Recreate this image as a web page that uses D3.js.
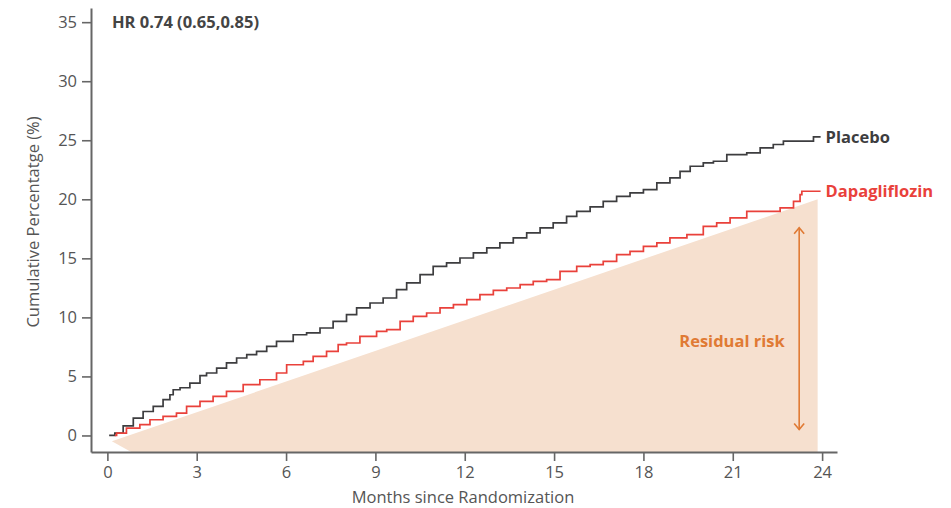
<!DOCTYPE html>
<html>
<head>
<meta charset="utf-8">
<script src="https://cdn.jsdelivr.net/npm/d3@7"></script>
<style>
  html, body { margin: 0; padding: 0; background: #fff; }
  svg { display: block; font-family: "Open Sans", "Noto Sans", sans-serif; }
</style>
</head>
<body>
<svg id="chart" width="951" height="508"></svg>
<script>
// Kaplan–Meier cumulative incidence, months since randomization vs %
const placeboMonths = [0.06,0.25,0.53,0.87,1.20,1.54,1.87,2.10,2.21,2.44,2.77,3.11,3.33,3.67,4.00,4.34,4.68,5.01,5.35,5.68,6.24,6.69,7.14,7.58,8.03,8.37,8.82,9.26,9.71,10.05,10.50,10.94,11.39,11.84,12.29,12.74,13.18,13.63,14.08,14.53,14.97,15.42,15.76,16.21,16.65,17.10,17.55,18.00,18.45,18.89,19.23,19.57,20.01,20.35,20.80,21.47,21.92,22.36,22.70,23.71,23.95];
const placeboValues = [0,0.2,0.82,1.47,2.03,2.46,3.03,3.45,3.87,4.04,4.44,5.06,5.29,5.71,6.14,6.56,6.84,7.12,7.54,7.97,8.53,8.68,9.10,9.66,10.23,10.80,11.22,11.64,12.35,12.92,13.62,14.32,14.61,15.03,15.46,15.88,16.31,16.73,17.15,17.58,18.00,18.56,18.98,19.36,19.83,20.25,20.54,20.82,21.39,21.81,22.37,22.80,23.08,23.22,23.79,23.93,24.36,24.64,24.92,25.29,25.29];

const dapaMonths = [0.25,0.31,0.64,1.09,1.43,1.87,2.32,2.66,3.11,3.55,4.00,4.56,5.12,5.68,6.02,6.58,6.91,7.36,7.75,8.03,8.48,9.04,9.38,9.83,10.27,10.72,11.17,11.62,12.07,12.51,12.96,13.41,13.86,14.30,14.75,15.20,15.76,16.21,16.65,17.10,17.55,18.00,18.45,18.89,19.46,20.01,20.46,20.91,21.47,22.59,23.04,23.26,23.32,23.95];
const dapaValues = [0,0.2,0.63,0.91,1.33,1.61,1.90,2.46,2.88,3.31,3.73,4.30,4.72,5.29,5.99,6.27,6.69,7.12,7.69,7.83,8.39,8.81,8.96,9.66,10.08,10.37,10.80,11.08,11.50,11.92,12.29,12.49,12.77,13.05,13.19,13.90,14.32,14.47,14.75,15.31,15.59,16.02,16.31,16.73,17.01,17.71,18.00,18.42,18.98,19.27,19.83,20.40,20.68,20.68];

const seriesNames = ["Placebo", "Dapagliflozin"];
const xTicks = [0, 3, 6, 9, 12, 15, 18, 21, 24];
const yTicks = [0, 5, 10, 15, 20, 25, 30, 35];
const hazardLabel = "HR 0.74 (0.65,0.85)";

// Residual-risk wedge (months, %) and its annotation arrow
const residualMonths = [0.15, 23.85, 23.85, 0.8];
const residualValues = [-0.5, 20.0, -1.4, -1.4];
const arrowMonth = 23.23;
const arrowRange = [0.5, 17.6];
const residualLabel = "Residual risk";

const svg = d3.select("#chart");
const x = d3.scaleLinear().domain([-0.55, 24.5]).range([91, 837]);
const y = d3.scaleLinear().domain([-1.4, 36.2]).range([452, 8]);

const axisColor = "#666";
const textColor = "#555";
const placeboColor = "#3d3d3f";
const dapaColor = "#e9413b";
const riskColor = "#e07a34";
const fs = 16.5;

// shaded wedge
const wedge = residualMonths.map((m, i) => [x(m), y(residualValues[i])]);
svg.append("path")
  .attr("d", d3.line()(wedge) + "Z")
  .attr("fill", "#f6e0cf");

// axes
const xAxis = d3.axisBottom(x).tickValues(xTicks).tickSize(9).tickPadding(5).tickSizeOuter(0);
const gx = svg.append("g").attr("transform", `translate(0,${y.range()[0]})`).call(xAxis);
const yAxis = d3.axisLeft(y).tickValues(yTicks).tickSize(9).tickPadding(5).tickSizeOuter(0);
const gy = svg.append("g").attr("transform", `translate(${x.range()[0]},0)`).call(yAxis);

[gx, gy].forEach(g => {
  g.select(".domain").attr("stroke", axisColor).attr("stroke-width", 2);
  g.selectAll(".tick line").attr("stroke", axisColor).attr("stroke-width", 1.6);
  g.selectAll(".tick text").attr("fill", textColor).attr("font-size", fs)
    .attr("font-family", "'Open Sans', sans-serif");
});

// axis titles
svg.append("text")
  .attr("x", 463).attr("y", 503)
  .attr("text-anchor", "middle")
  .attr("fill", textColor).attr("font-size", fs)
  .text("Months since Randomization");

svg.append("text")
  .attr("transform", "translate(39,222) rotate(-90)")
  .attr("text-anchor", "middle")
  .attr("fill", textColor).attr("font-size", fs)
  .text("Cumulative Percentatge (%)");

// hazard ratio
svg.append("text")
  .attr("x", 112).attr("y", 28)
  .attr("fill", "#444").attr("font-size", fs).attr("font-weight", 700)
  .text(hazardLabel);

// step curves
const step = d3.line().curve(d3.curveStepAfter).x(d => x(d[0])).y(d => y(d[1]));
const series = [
  { name: seriesNames[0], months: placeboMonths, values: placeboValues, color: placeboColor },
  { name: seriesNames[1], months: dapaMonths, values: dapaValues, color: dapaColor }
];
series.forEach(s => {
  const pts = s.months.map((m, i) => [m, s.values[i]]);
  svg.append("path")
    .attr("d", step(pts))
    .attr("fill", "none")
    .attr("stroke", s.color)
    .attr("stroke-width", 1.7);
  const last = pts[pts.length - 1];
  svg.append("text")
    .attr("x", x(last[0]) + 5)
    .attr("y", y(last[1]))
    .attr("dy", "0.35em")
    .attr("fill", s.color)
    .attr("font-size", fs).attr("font-weight", 700)
    .text(s.name);
});

// residual-risk arrow
const ax = x(arrowMonth);
const yTop = y(arrowRange[1]);
const yBot = y(arrowRange[0]);
const arrow = svg.append("g").attr("stroke", riskColor).attr("stroke-width", 1.6).attr("fill", "none");
arrow.append("line").attr("x1", ax).attr("x2", ax).attr("y1", yTop).attr("y2", yBot);
arrow.append("path").attr("d", `M${ax - 5},${yTop + 6}L${ax},${yTop}L${ax + 5},${yTop + 6}`);
arrow.append("path").attr("d", `M${ax - 5},${yBot - 6}L${ax},${yBot}L${ax + 5},${yBot - 6}`);

svg.append("text")
  .attr("x", 732).attr("y", 341)
  .attr("dy", "0.35em")
  .attr("text-anchor", "middle")
  .attr("fill", riskColor)
  .attr("font-size", fs).attr("font-weight", 700)
  .text(residualLabel);
</script>
</body>
</html>
